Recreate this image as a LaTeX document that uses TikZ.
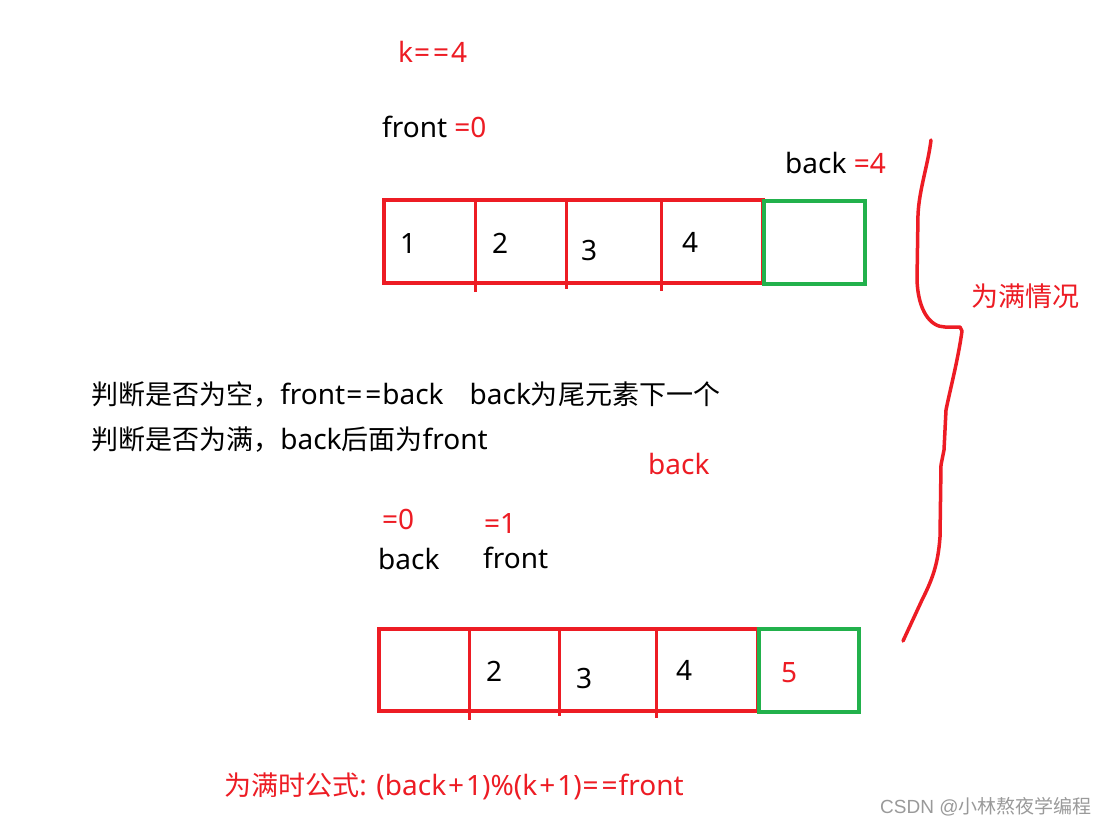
\documentclass[tikz,border=0pt]{standalone}
\usepackage{fontspec}
\setmainfont{Noto Sans}
\newfontfamily\cjk[Scale=0.965]{Noto Sans CJK SC}
\newfontfamily\wmcjk{Noto Sans CJK SC}
\newfontfamily\wmlat{Liberation Sans}
\definecolor{pred}{HTML}{ED1C24}
\definecolor{pgreen}{HTML}{22B14C}
\definecolor{wmgray}{HTML}{9A9A9A}
\newcommand\myplus{\kern2pt+\kern2pt}
\newcommand\myeqeq{\kern1pt=\kern3pt=\kern1pt}
\begin{document}
\begin{tikzpicture}[x=1pt,y=-1pt,
  txt/.style={anchor=base west,inner sep=0pt,font=\fontsize{28}{32}\selectfont},
  rtxt/.style={txt,text=pred},
  redbox/.style={draw=pred,line width=4.5pt},
  greenbox/.style={draw=pgreen,line width=4.5pt},
  divider/.style={draw=pred,line width=3pt},
  brace/.style={draw=pred,line width=3.5pt,line cap=round,line join=round}]
\useasboundingbox (0,0) rectangle (1106,825);
\fill[white] (0,0) rectangle (1106,825);

% top labels
\node[rtxt] (k) at (398,62) {k\myeqeq\kern1pt4};
\node[txt] (f0) at (382,137) {front \textcolor{pred}{=0}};
\node[txt] (b4) at (785,173) {back \textcolor{pred}{=4}};

% top array
\draw[redbox] (384,200) rectangle (763,283);
\draw[divider] (475,201) -- (475,292);
\draw[divider] (566,201) -- (566,289);
\draw[divider] (661,201) -- (661,291);
\draw[greenbox] (764,201) rectangle (865,284);
\node[txt] (t1) at (400,253) {1};
\node[txt] (t2) at (492,253) {2};
\node[txt] (t3) at (581,260) {3};
\node[txt] (t4) at (682,252) {4};

% brace
\draw[brace] (931,140) .. controls (928,165) and (919,190) .. (918,215)
  -- (917,280) .. controls (918,310) and (930,327) .. (945,327)
  -- (960,327) -- (962,331)
  .. controls (958,360) and (950,390) .. (946,410)
  -- (944,450) -- (941,465) -- (940,537)
  .. controls (938,565) and (932,580) .. (922,600) -- (903,641);
\node[rtxt] (full) at (971,306) {\cjk 为满情况};

% middle text
\node[txt] (l1) at (91,404) {{\cjk 判断是否为空，}front\myeqeq back\hspace{26pt}back{\cjk 为尾元素下一个}};
\node[txt] (l2) at (91,449) {{\cjk 判断是否为满，}back{\cjk 后面为}front};
\node[rtxt] (mb) at (648,474) {back};

% bottom labels
\node[rtxt] (e0) at (382,529) {=0};
\node[rtxt] (e1) at (484,533) {=1};
\node[txt] (bb) at (378,569) {back};
\node[txt] (bf) at (483,568) {front};

% bottom array
\draw[redbox] (379,629) rectangle (758,711);
\draw[divider] (469,630) -- (469,720);
\draw[divider] (559,630) -- (559,716);
\draw[divider] (656,630) -- (656,718);
\draw[greenbox] (759,629) rectangle (859,712);
\node[txt] (u2) at (486,681) {2};
\node[txt] (u3) at (576,688) {3};
\node[txt] (u4) at (676,680) {4};
\node[rtxt] (u5) at (781,682) {5};

% formula
\node[rtxt] (formula) at (224,795) {{\cjk 为满时公式}: (back\myplus 1)\%(k\myplus 1)\myeqeq front};
\node[anchor=base west,inner sep=0pt,text=wmgray,font=\fontsize{19}{23}\selectfont] (wm) at (880,813) {\wmlat CSDN @{\wmcjk 小林熬夜学编程}};
\end{tikzpicture}
\end{document}
